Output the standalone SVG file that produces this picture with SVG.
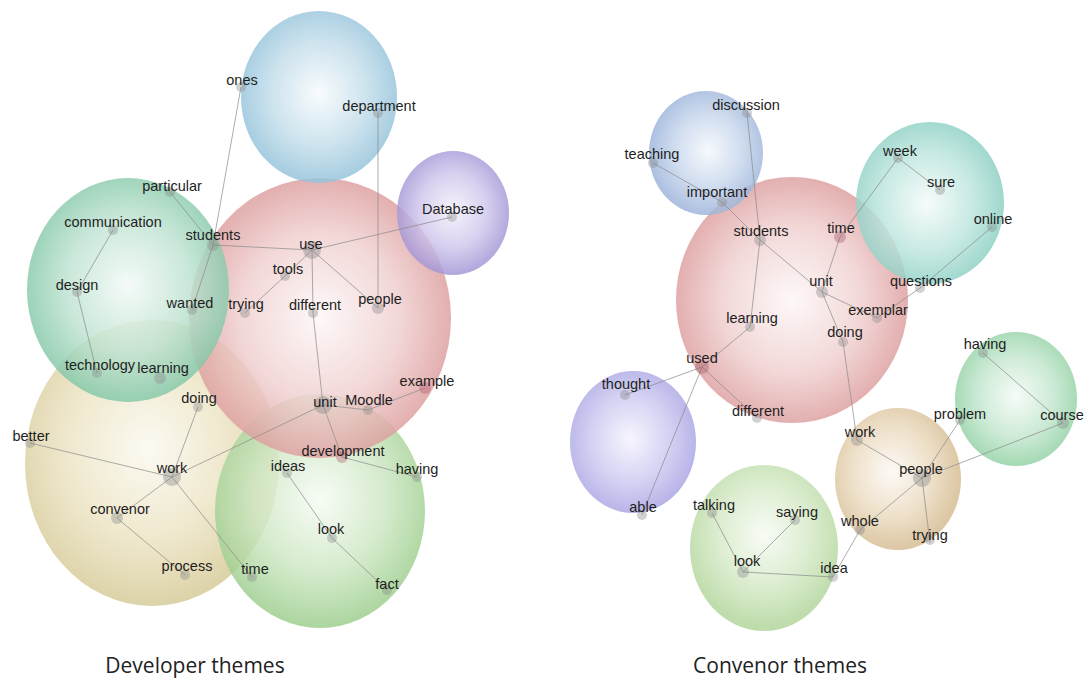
<svg xmlns="http://www.w3.org/2000/svg" width="1084" height="683" viewBox="0 0 1084 683">
<style>
.bub{opacity:0.84}
.edge{stroke:#8c8c8c;stroke-width:0.9;fill:none;opacity:0.8}
.dot{fill:#8a8a8a;opacity:0.38}
.big{fill:#8a8a8a;opacity:0.42}
.lbl{font-family:"Liberation Sans",Arial,sans-serif;font-size:14.5px;fill:#1e1e1e;text-anchor:middle}
.cap{font-family:"Open Sans","Noto Sans",sans-serif;font-size:21px;fill:#222;text-anchor:middle}
</style>
<defs>
<radialGradient id="gBlue" cx="50%" cy="48%" r="55%"><stop offset="0" stop-color="#f7fbfd"/><stop offset="0.55" stop-color="#c4deeb"/><stop offset="1" stop-color="#8dbfd8"/></radialGradient>
<radialGradient id="gPurp" cx="50%" cy="48%" r="55%"><stop offset="0" stop-color="#f4f2fb"/><stop offset="0.55" stop-color="#cfc6ec"/><stop offset="1" stop-color="#9d8ed2"/></radialGradient>
<radialGradient id="gRed" cx="50%" cy="50%" r="55%"><stop offset="0" stop-color="#fdf7f7"/><stop offset="0.55" stop-color="#f0cfcf"/><stop offset="1" stop-color="#d99494"/></radialGradient>
<radialGradient id="gTeal" cx="50%" cy="48%" r="55%"><stop offset="0" stop-color="#f3faf7"/><stop offset="0.55" stop-color="#bfe3d2"/><stop offset="1" stop-color="#7cc4a2"/></radialGradient>
<radialGradient id="gBeige" cx="48%" cy="45%" r="55%"><stop offset="0" stop-color="#fbf9f0"/><stop offset="0.55" stop-color="#ede5c6"/><stop offset="1" stop-color="#d6ca98"/></radialGradient>
<radialGradient id="gLGreen" cx="50%" cy="45%" r="55%"><stop offset="0" stop-color="#f6fbf4"/><stop offset="0.55" stop-color="#cfe8c5"/><stop offset="1" stop-color="#9ccd8c"/></radialGradient>
<radialGradient id="gRBlue" cx="52%" cy="48%" r="55%"><stop offset="0" stop-color="#f5f8fc"/><stop offset="0.55" stop-color="#c6d5ec"/><stop offset="1" stop-color="#96afd8"/></radialGradient>
<radialGradient id="gRTeal" cx="48%" cy="50%" r="55%"><stop offset="0" stop-color="#f4fbfa"/><stop offset="0.55" stop-color="#bfe6df"/><stop offset="1" stop-color="#86cdc0"/></radialGradient>
<radialGradient id="gRPurp" cx="48%" cy="48%" r="55%"><stop offset="0" stop-color="#f5f4fd"/><stop offset="0.55" stop-color="#cdcaf1"/><stop offset="1" stop-color="#a6a1e2"/></radialGradient>
<radialGradient id="gRLGreen" cx="50%" cy="42%" r="55%"><stop offset="0" stop-color="#f7fbf4"/><stop offset="0.55" stop-color="#d6eac8"/><stop offset="1" stop-color="#b3d69c"/></radialGradient>
<radialGradient id="gRBeige" cx="45%" cy="45%" r="55%"><stop offset="0" stop-color="#fcf9f4"/><stop offset="0.55" stop-color="#ecdcc2"/><stop offset="1" stop-color="#d6bc92"/></radialGradient>
<radialGradient id="gRGreen" cx="50%" cy="48%" r="55%"><stop offset="0" stop-color="#f4fbf6"/><stop offset="0.55" stop-color="#c4e7cf"/><stop offset="1" stop-color="#8ccf9f"/></radialGradient>
</defs>
<rect width="1084" height="683" fill="#ffffff"/>

<g id="bubbles">
<ellipse class="bub" cx="152" cy="463" rx="127" ry="143" fill="url(#gBeige)"/>
<ellipse class="bub" cx="320" cy="511" rx="105" ry="117" fill="url(#gLGreen)"/>
<ellipse class="bub" cx="320" cy="318" rx="131" ry="140" fill="url(#gRed)"/>
<ellipse class="bub" cx="128" cy="290" rx="101" ry="112" fill="url(#gTeal)"/>
<ellipse class="bub" cx="319" cy="97" rx="78" ry="86" fill="url(#gBlue)"/>
<ellipse class="bub" cx="453" cy="213" rx="56" ry="62" fill="url(#gPurp)"/>

<ellipse class="bub" cx="792" cy="300" rx="116" ry="123" fill="url(#gRed)"/>
<ellipse class="bub" cx="706" cy="153" rx="57" ry="62" fill="url(#gRBlue)"/>
<ellipse class="bub" cx="930" cy="203" rx="74" ry="81" fill="url(#gRTeal)"/>
<ellipse class="bub" cx="633" cy="442" rx="63" ry="71" fill="url(#gRPurp)"/>
<ellipse class="bub" cx="764" cy="548" rx="74" ry="83" fill="url(#gRLGreen)"/>
<ellipse class="bub" cx="898" cy="479" rx="63" ry="71" fill="url(#gRBeige)"/>
<ellipse class="bub" cx="1016" cy="399" rx="61" ry="67" fill="url(#gRGreen)"/>
</g>

<g id="connectors">
<line class="edge" x1="241" y1="87" x2="213" y2="245"/>
<line class="edge" x1="213" y1="245" x2="192" y2="310"/>
<line class="edge" x1="170" y1="192" x2="213" y2="245"/>
<line class="edge" x1="113" y1="230" x2="77" y2="292"/>
<line class="edge" x1="77" y1="292" x2="97" y2="373"/>
<line class="edge" x1="213" y1="245" x2="312" y2="250"/>
<line class="edge" x1="312" y1="250" x2="452" y2="217"/>
<line class="edge" x1="312" y1="250" x2="285" y2="276"/>
<line class="edge" x1="285" y1="276" x2="245" y2="313"/>
<line class="edge" x1="312" y1="250" x2="313" y2="313"/>
<line class="edge" x1="312" y1="250" x2="378" y2="308"/>
<line class="edge" x1="378" y1="113" x2="378" y2="308"/>
<line class="edge" x1="313" y1="313" x2="323" y2="405"/>
<line class="edge" x1="323" y1="405" x2="368" y2="410"/>
<line class="edge" x1="368" y1="410" x2="425" y2="388"/>
<line class="edge" x1="323" y1="405" x2="342" y2="457"/>
<line class="edge" x1="342" y1="457" x2="417" y2="477"/>
<line class="edge" x1="287" y1="473" x2="332" y2="538"/>
<line class="edge" x1="332" y1="538" x2="387" y2="590"/>
<line class="edge" x1="172" y1="477" x2="323" y2="405"/>
<line class="edge" x1="172" y1="477" x2="198" y2="407"/>
<line class="edge" x1="172" y1="477" x2="30" y2="443"/>
<line class="edge" x1="172" y1="477" x2="117" y2="518"/>
<line class="edge" x1="117" y1="518" x2="185" y2="575"/>
<line class="edge" x1="172" y1="477" x2="252" y2="577"/>

<line class="edge" x1="747" y1="113" x2="760" y2="240"/>
<line class="edge" x1="760" y1="240" x2="750" y2="327"/>
<line class="edge" x1="653" y1="163" x2="722" y2="202"/>
<line class="edge" x1="722" y1="202" x2="760" y2="240"/>
<line class="edge" x1="760" y1="240" x2="822" y2="292"/>
<line class="edge" x1="822" y1="292" x2="840" y2="237"/>
<line class="edge" x1="840" y1="237" x2="898" y2="158"/>
<line class="edge" x1="898" y1="158" x2="940" y2="190"/>
<line class="edge" x1="822" y1="292" x2="877" y2="318"/>
<line class="edge" x1="877" y1="318" x2="920" y2="288"/>
<line class="edge" x1="920" y1="288" x2="992" y2="227"/>
<line class="edge" x1="822" y1="292" x2="843" y2="342"/>
<line class="edge" x1="750" y1="327" x2="702" y2="367"/>
<line class="edge" x1="702" y1="367" x2="625" y2="395"/>
<line class="edge" x1="702" y1="367" x2="757" y2="418"/>
<line class="edge" x1="702" y1="367" x2="642" y2="515"/>
<line class="edge" x1="843" y1="342" x2="857" y2="440"/>
<line class="edge" x1="857" y1="440" x2="922" y2="478"/>
<line class="edge" x1="922" y1="478" x2="960" y2="420"/>
<line class="edge" x1="922" y1="478" x2="1063" y2="423"/>
<line class="edge" x1="983" y1="353" x2="1063" y2="423"/>
<line class="edge" x1="922" y1="478" x2="930" y2="543"/>
<line class="edge" x1="922" y1="478" x2="860" y2="530"/>
<line class="edge" x1="860" y1="530" x2="833" y2="577"/>
<line class="edge" x1="833" y1="577" x2="743" y2="572"/>
<line class="edge" x1="743" y1="572" x2="712" y2="513"/>
<line class="edge" x1="743" y1="572" x2="795" y2="520"/>
</g>

<g id="dev-ones"><circle class="dot" cx="241" cy="87" r="5"/><text class="lbl" x="242" y="85">ones</text></g>
<g id="dev-department"><circle class="dot" cx="378" cy="113" r="5"/><text class="lbl" x="379" y="111">department</text></g>
<g id="dev-particular"><circle class="dot" cx="170" cy="192" r="5"/><text class="lbl" x="172" y="191">particular</text></g>
<g id="dev-communication"><circle class="dot" cx="113" cy="230" r="5"/><text class="lbl" x="113" y="227">communication</text></g>
<g id="dev-students"><circle class="dot" cx="213" cy="245" r="6"/><text class="lbl" x="213" y="240">students</text></g>
<g id="dev-design"><circle class="dot" cx="77" cy="292" r="5"/><text class="lbl" x="77" y="290">design</text></g>
<g id="dev-wanted"><circle class="dot" cx="192" cy="310" r="5"/><text class="lbl" x="190" y="308">wanted</text></g>
<g id="dev-trying"><circle class="dot" cx="245" cy="313" r="5"/><text class="lbl" x="246" y="309">trying</text></g>
<g id="dev-use"><circle class="big" cx="312" cy="250" r="9"/><text class="lbl" x="311" y="249">use</text></g>
<g id="dev-tools"><circle class="dot" cx="285" cy="276" r="5"/><text class="lbl" x="288" y="274">tools</text></g>
<g id="dev-different"><circle class="dot" cx="313" cy="313" r="5"/><text class="lbl" x="315" y="310">different</text></g>
<g id="dev-people"><circle class="dot" cx="378" cy="308" r="6"/><text class="lbl" x="380" y="304">people</text></g>
<g id="dev-database"><circle class="dot" cx="452" cy="217" r="5"/><text class="lbl" x="453" y="214">Database</text></g>
<g id="dev-technology"><circle class="dot" cx="97" cy="373" r="5"/><text class="lbl" x="100" y="370">technology</text></g>
<g id="dev-learning"><circle class="dot" cx="160" cy="378" r="6"/><text class="lbl" x="163" y="373">learning</text></g>
<g id="dev-doing"><circle class="dot" cx="198" cy="407" r="5"/><text class="lbl" x="199" y="403">doing</text></g>
<g id="dev-better"><circle class="dot" cx="30" cy="443" r="5"/><text class="lbl" x="31" y="441">better</text></g>
<g id="dev-work"><circle class="big" cx="172" cy="477" r="9"/><text class="lbl" x="172" y="473">work</text></g>
<g id="dev-convenor"><circle class="dot" cx="117" cy="518" r="6"/><text class="lbl" x="120" y="514">convenor</text></g>
<g id="dev-process"><circle class="dot" cx="185" cy="575" r="5"/><text class="lbl" x="187" y="571">process</text></g>
<g id="dev-time"><circle class="dot" cx="252" cy="577" r="5"/><text class="lbl" x="255" y="574">time</text></g>
<g id="dev-unit"><circle class="big" cx="323" cy="405" r="9"/><text class="lbl" x="325" y="407">unit</text></g>
<g id="dev-moodle"><circle class="dot" cx="368" cy="410" r="5"/><text class="lbl" x="369" y="405">Moodle</text></g>
<g id="dev-example"><circle class="dot" cx="425" cy="388" r="6" style="fill:#b05a70"/><text class="lbl" x="427" y="386">example</text></g>
<g id="dev-development"><circle class="dot" cx="342" cy="457" r="6" style="fill:#b05a70"/><text class="lbl" x="343" y="456">development</text></g>
<g id="dev-ideas"><circle class="dot" cx="287" cy="473" r="5"/><text class="lbl" x="288" y="471">ideas</text></g>
<g id="dev-having"><circle class="dot" cx="417" cy="477" r="5"/><text class="lbl" x="417" y="474">having</text></g>
<g id="dev-look"><circle class="dot" cx="332" cy="538" r="5"/><text class="lbl" x="331" y="534">look</text></g>
<g id="dev-fact"><circle class="dot" cx="387" cy="590" r="5"/><text class="lbl" x="387" y="589">fact</text></g>

<g id="con-discussion"><circle class="dot" cx="747" cy="113" r="5"/><text class="lbl" x="746" y="110">discussion</text></g>
<g id="con-teaching"><circle class="dot" cx="653" cy="163" r="5"/><text class="lbl" x="652" y="159">teaching</text></g>
<g id="con-important"><circle class="dot" cx="722" cy="202" r="5"/><text class="lbl" x="717" y="197">important</text></g>
<g id="con-students"><circle class="dot" cx="760" cy="240" r="6"/><text class="lbl" x="761" y="236">students</text></g>
<g id="con-unit"><circle class="dot" cx="822" cy="292" r="6"/><text class="lbl" x="821" y="286">unit</text></g>
<g id="con-learning"><circle class="dot" cx="750" cy="327" r="5"/><text class="lbl" x="752" y="323">learning</text></g>
<g id="con-used"><circle class="dot" cx="702" cy="367" r="7" style="fill:#a05a6a"/><text class="lbl" x="702" y="363">used</text></g>
<g id="con-time"><circle class="dot" cx="840" cy="237" r="6" style="fill:#a05a6a"/><text class="lbl" x="841" y="233">time</text></g>
<g id="con-week"><circle class="dot" cx="898" cy="158" r="5"/><text class="lbl" x="900" y="156">week</text></g>
<g id="con-sure"><circle class="dot" cx="940" cy="190" r="5"/><text class="lbl" x="941" y="187">sure</text></g>
<g id="con-online"><circle class="dot" cx="992" cy="227" r="5"/><text class="lbl" x="993" y="224">online</text></g>
<g id="con-questions"><circle class="dot" cx="920" cy="288" r="5"/><text class="lbl" x="921" y="286">questions</text></g>
<g id="con-exemplar"><circle class="dot" cx="877" cy="318" r="5"/><text class="lbl" x="878" y="315">exemplar</text></g>
<g id="con-doing"><circle class="dot" cx="843" cy="342" r="5"/><text class="lbl" x="845" y="337">doing</text></g>
<g id="con-thought"><circle class="dot" cx="625" cy="395" r="5"/><text class="lbl" x="626" y="389">thought</text></g>
<g id="con-different"><circle class="dot" cx="757" cy="418" r="5"/><text class="lbl" x="758" y="416">different</text></g>
<g id="con-able"><circle class="dot" cx="642" cy="515" r="5"/><text class="lbl" x="643" y="512">able</text></g>
<g id="con-talking"><circle class="dot" cx="712" cy="513" r="5"/><text class="lbl" x="714" y="510">talking</text></g>
<g id="con-saying"><circle class="dot" cx="795" cy="520" r="5"/><text class="lbl" x="797" y="517">saying</text></g>
<g id="con-look"><circle class="dot" cx="743" cy="572" r="6"/><text class="lbl" x="747" y="566">look</text></g>
<g id="con-idea"><circle class="dot" cx="833" cy="577" r="5"/><text class="lbl" x="834" y="573">idea</text></g>
<g id="con-work"><circle class="dot" cx="857" cy="440" r="6"/><text class="lbl" x="860" y="437">work</text></g>
<g id="con-people"><circle class="big" cx="922" cy="478" r="9"/><text class="lbl" x="921" y="474">people</text></g>
<g id="con-problem"><circle class="dot" cx="960" cy="420" r="5"/><text class="lbl" x="960" y="419">problem</text></g>
<g id="con-having"><circle class="dot" cx="983" cy="353" r="5"/><text class="lbl" x="985" y="349">having</text></g>
<g id="con-course"><circle class="dot" cx="1063" cy="423" r="6"/><text class="lbl" x="1062" y="420">course</text></g>
<g id="con-whole"><circle class="dot" cx="860" cy="530" r="5"/><text class="lbl" x="860" y="526">whole</text></g>
<g id="con-trying"><circle class="dot" cx="930" cy="540" r="5"/><text class="lbl" x="930" y="540">trying</text></g>

<g id="captions">
<text class="cap" x="195" y="673">Developer themes</text>
<text class="cap" x="780" y="673">Convenor themes</text>
</g>
</svg>
